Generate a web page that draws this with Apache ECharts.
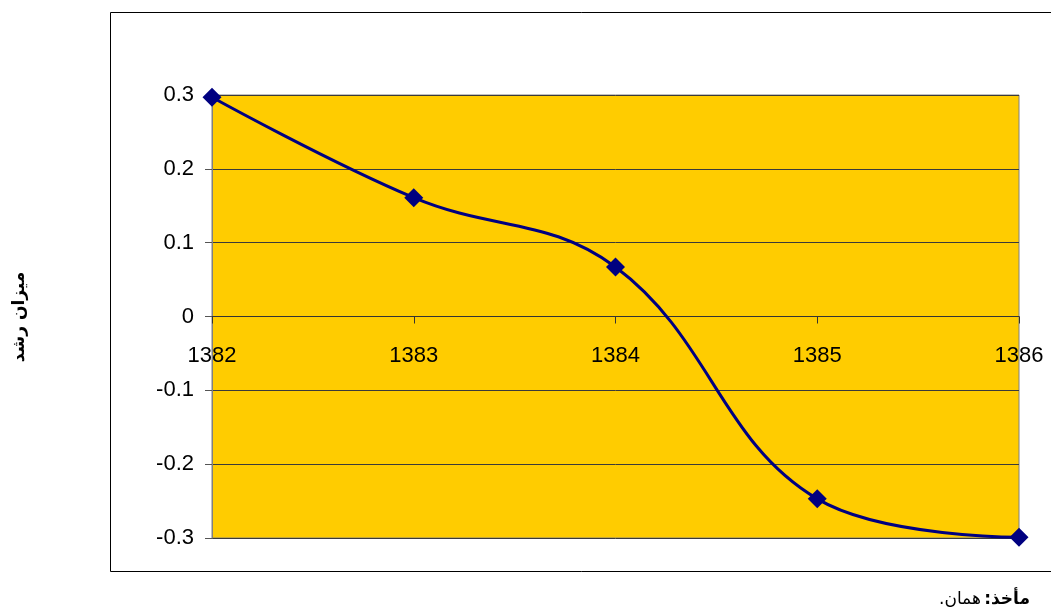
<!DOCTYPE html>
<html>
<head>
<meta charset="utf-8">
<script src="https://cdn.jsdelivr.net/npm/echarts@6/dist/echarts.min.js"></script>
<style>
  html, body { margin: 0; padding: 0; background: #fff; }
  #chart { width: 1051px; height: 613px; }
</style>
</head>
<body>
<div id="chart"></div>
<script>
// Years (Solar Hijri) and growth rate per year
const years = ['1382', '1383', '1384', '1385', '1386'];
const growth = [0.297, 0.161, 0.067, -0.247, -0.299];
const yMin = -0.3, yMax = 0.3, yStep = 0.1;

const axisTitle = 'میزان رشد';
const sourceLabel = 'مأخذ:\u200F';
const sourceText = 'همان.\u200F';

// plot box
const gridTop = 95, gridBottom = 75, gridLeft = 212, gridRight = 32;
const chartH = 613;
const plotH = chartH - gridTop - gridBottom;
// the category axis sits on the zero line of the value axis
const zeroOffset = -plotH * (0 - yMin) / (yMax - yMin);

const chart = echarts.init(document.getElementById('chart'), null, { renderer: 'canvas' });

const font = '"Liberation Sans", Arial, "DejaVu Sans", sans-serif';

chart.setOption({
  animation: false,
  textStyle: { fontFamily: font },
  grid: {
    left: gridLeft, top: gridTop, right: gridRight, bottom: gridBottom,
    show: true,
    backgroundColor: '#FFCC00',
    borderColor: '#808080',
    borderWidth: 1
  },
  xAxis: {
    type: 'category',
    data: years,
    boundaryGap: false,
    offset: zeroOffset,
    axisLine: { onZero: false, lineStyle: { color: '#333', width: 1 } },
    axisTick: { show: true, inside: false, length: 7, alignWithLabel: true, lineStyle: { color: '#333' } },
    axisLabel: { margin: 28, fontSize: 22, color: '#000', fontFamily: font },
    splitLine: { show: false }
  },
  yAxis: {
    type: 'value',
    min: yMin, max: yMax, interval: yStep,
    axisLine: { show: true, lineStyle: { color: '#808080', width: 1 } },
    axisTick: { show: true, length: 7, lineStyle: { color: '#555' } },
    axisLabel: {
      margin: 18, fontSize: 22, color: '#000', fontFamily: font,
      formatter: v => {
        const r = Math.round(v * 10) / 10;
        return r === 0 ? '0' : String(r);
      }
    },
    splitLine: { show: true, lineStyle: { color: '#3a3a3a', width: 1 } }
  },
  series: [{
    type: 'line',
    data: growth,
    smooth: 0.4,
    clip: false,
    symbol: 'diamond',
    symbolSize: 19,
    lineStyle: { color: '#000080', width: 3 },
    itemStyle: { color: '#000080' },
    z: 5
  }],
  graphic: [
    {
      type: 'rect',
      shape: { x: 110.5, y: 12.5, width: 960, height: 559 },
      style: { fill: 'none', stroke: '#000', lineWidth: 1 },
      silent: true,
      z: -1
    },
    {
      type: 'text',
      x: 20, y: 317,
      rotation: Math.PI / 2,
      style: {
        text: axisTitle,
        font: 'bold 17px "DejaVu Sans", sans-serif',
        fill: '#000',
        align: 'center',
        verticalAlign: 'middle'
      }
    },
    {
      type: 'text',
      right: 21, top: 591,
      style: {
        text: '{n|' + sourceText + '} {b|' + sourceLabel + '}',
        rich: {
          n: { font: '17px "DejaVu Sans", sans-serif', fill: '#000' },
          b: { font: 'bold 17px "DejaVu Sans", sans-serif', fill: '#000' }
        }
      }
    }
  ]
});
</script>
</body>
</html>
